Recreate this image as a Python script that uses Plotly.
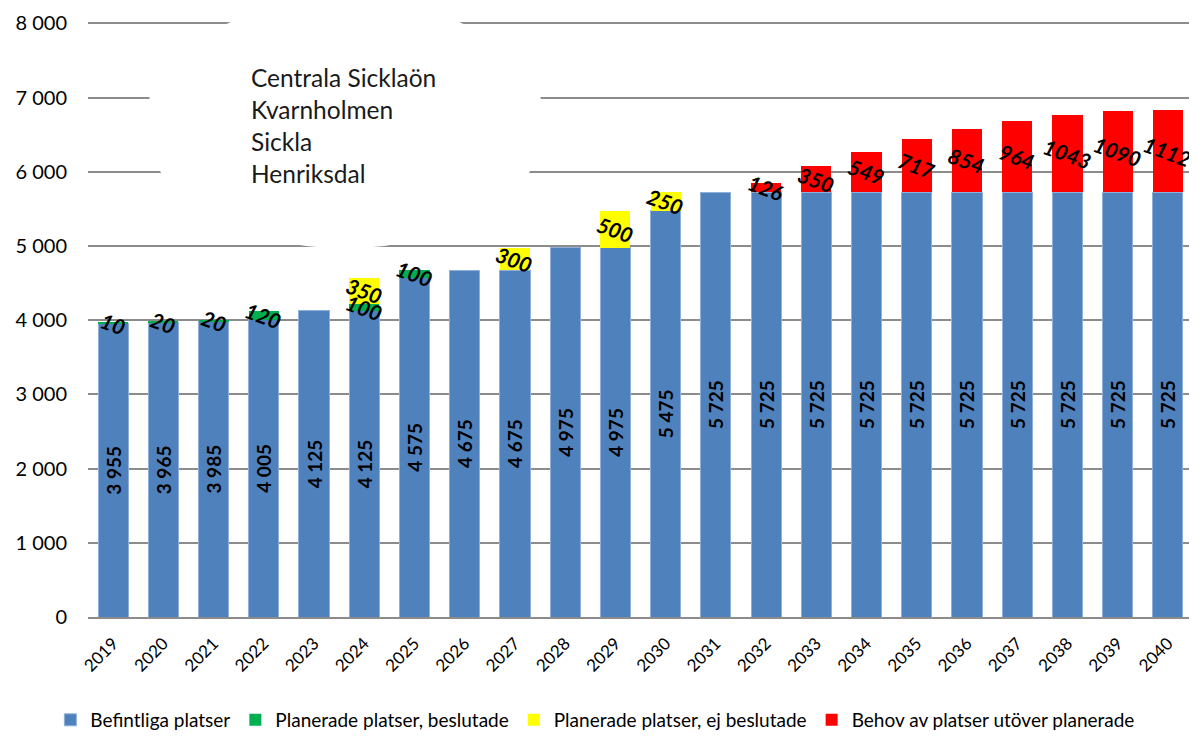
import plotly.graph_objects as go

years = [str(y) for y in range(2019, 2041)]
befintliga = [3955, 3965, 3985, 4005, 4125, 4125, 4575, 4675, 4675, 4975, 4975, 5475,
              5725, 5725, 5725, 5725, 5725, 5725, 5725, 5725, 5725, 5725]
beslutade = [10, 20, 20, 120, 0, 100, 100, 0, 0, 0, 0, 0,
             0, 0, 0, 0, 0, 0, 0, 0, 0, 0]
ej_beslutade = [0, 0, 0, 0, 0, 350, 0, 0, 300, 0, 500, 250,
                0, 0, 0, 0, 0, 0, 0, 0, 0, 0]
behov = [0, 0, 0, 0, 0, 0, 0, 0, 0, 0, 0, 0,
         0, 126, 350, 549, 717, 854, 964, 1043, 1090, 1112]
yticks = [0, 1000, 2000, 3000, 4000, 5000, 6000, 7000, 8000]
ytick_text = ["0", "1 000", "2 000", "3 000", "4 000", "5 000", "6 000", "7 000", "8 000"]
area_lines = ["Centrala Sicklaön", "Kvarnholmen", "Sickla", "Henriksdal"]

FONT = "Lato"

def fmt(v):
    return f"{v:,}".replace(",", " ")

fig = go.Figure()
fig.add_trace(go.Bar(x=years, y=befintliga, name="Befintliga platser",
                     marker=dict(color="#4F81BD", line=dict(color="#8EB0DA", width=1)),
                     text=[fmt(v) for v in befintliga], textposition="inside",
                     textangle=-90, insidetextanchor="middle",
                     insidetextfont=dict(family=FONT, size=19, color="black", weight="bold")))
fig.add_trace(go.Bar(x=years, y=beslutade, name="Planerade platser, beslutade",
                     marker=dict(color="#00B050", line=dict(width=0))))
fig.add_trace(go.Bar(x=years, y=ej_beslutade, name="Planerade platser, ej beslutade",
                     marker=dict(color="#FFFF00", line=dict(width=0))))
fig.add_trace(go.Bar(x=years, y=behov, name="Behov av platser utöver planerade",
                     marker=dict(color="#FF0000", line=dict(width=0))))

# rotated labels for the small segments (x given as category index)
for i, yr in enumerate(years):
    base = befintliga[i]
    for series in (beslutade, ej_beslutade, behov):
        v = series[i]
        if v:
            fig.add_annotation(x=i, y=base + v / 2, text=f"<b><i>{v}</i></b>",
                               showarrow=False, textangle=20,
                               font=dict(family=FONT, size=21, color="black"))
            base += v

# white backdrop of the text box (covers gridlines, sits beneath bars)
fig.add_shape(type="circle", xref="x", yref="y",
              x0=0.635, x1=8.6, y0=4970, y1=8320,
              fillcolor="white", line=dict(width=0), layer="between")

for k, line in enumerate(area_lines):
    fig.add_annotation(xref="x domain", yref="paper", x=0.146, y=1 - (78 + 32 * k - 22.5) / 594.5,
                       xanchor="left", yanchor="middle", align="left", showarrow=False,
                       text=line, font=dict(family=FONT, size=24.5, color="#1a1a1a"))

# the page body has an 8px margin, so the figure is sized/positioned to compensate
fig.update_layout(
    barmode="stack", bargap=0.4, width=1189, height=728,
    margin=dict(l=80, r=4, t=14, b=119),
    plot_bgcolor="white", paper_bgcolor="white",
    font=dict(family=FONT, size=16, color="black"),
    showlegend=True,
    legend=dict(orientation="h", xref="container", yref="container",
                x=0.494, y=0.022, xanchor="center", yanchor="middle",
                font=dict(family=FONT, size=19), traceorder="normal"),
    hovermode=False,
)
fig.update_yaxes(range=[0, 8020], tickvals=yticks, ticktext=ytick_text,
                 showgrid=True, gridcolor="#8C8C8C", gridwidth=1.8,
                 zeroline=False, ticklabelstandoff=20, automargin=False,
                 tickfont=dict(family=FONT, size=20))
fig.update_xaxes(type="category", range=[-0.5, len(years) - 0.5], tickangle=-45,
                 showline=True, linecolor="#8C8C8C", automargin=False,
                 ticklabelstandoff=8,
                 linewidth=1.8, tickfont=dict(family=FONT, size=17))

fig.write_html("out.html")
